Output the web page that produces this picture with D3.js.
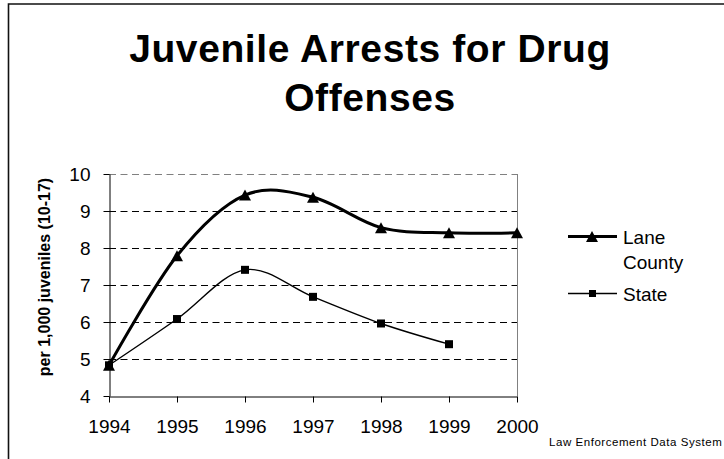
<!DOCTYPE html>
<html>
<head>
<meta charset="utf-8">
<script src="https://cdn.jsdelivr.net/npm/d3@7"></script>
<style>
  html, body { margin: 0; padding: 0; background: #fff; }
  svg { display: block; font-family: Arial, "Liberation Sans", sans-serif; }
</style>
</head>
<body>
<svg id="chart" width="724" height="459"></svg>
<script>
// Juvenile drug-offense arrest rates per 1,000 juveniles aged 10-17
const years = [1994, 1995, 1996, 1997, 1998, 1999, 2000];
const laneCounty = [4.83, 7.79, 9.43, 9.37, 8.55, 8.41, 8.41];
const state = [4.83, 6.08, 7.41, 6.68, 5.96, 5.40, null];
const yTicks = [4, 5, 6, 7, 8, 9, 10];
const titleLines = ["Juvenile Arrests for Drug", "Offenses"];
const yLabel = "per 1,000 juveniles (10-17)";
const seriesNames = ["Lane", "County", "State"];
const sourceNote = "Law Enforcement Data System";

const svg = d3.select("#chart");

// outer frame (top and left edges)
svg.append("path")
  .attr("d", "M8.5,459 L8.5,4 L724,4")
  .attr("fill", "none").attr("stroke", "#111").attr("stroke-width", 1.6);

// title
const title = svg.append("text")
  .attr("text-anchor", "middle")
  .attr("font-weight", "bold")
  .attr("font-size", 39)
  .attr("letter-spacing", 0.6)
  .attr("fill", "#000");
titleLines.forEach((t, i) => {
  title.append("tspan").attr("x", 370).attr("y", 62 + i * 49).text(t);
});

const x = d3.scaleLinear().domain([1994, 2000]).range([109, 517]);
const y = d3.scaleLinear().domain([4, 10]).range([396, 174]);

// dashed horizontal gridlines
svg.append("g")
  .selectAll("line")
  .data(yTicks.filter(v => v > 4))
  .join("line")
  .attr("x1", x(1994)).attr("x2", x(2000))
  .attr("y1", d => Math.round(y(d)) + 0.5).attr("y2", d => Math.round(y(d)) + 0.5)
  .attr("stroke", d => d === 10 ? "#808080" : "#000")
  .attr("stroke-width", 1)
  .attr("stroke-dasharray", "7,4.5");

// plot-area right edge
svg.append("line")
  .attr("x1", x(2000) + 0.5).attr("x2", x(2000) + 0.5)
  .attr("y1", y(10)).attr("y2", y(4))
  .attr("stroke", "#808080").attr("stroke-width", 1);

// axes
const xAxis = d3.axisBottom(x).tickValues(years).tickFormat(d3.format("d"))
  .tickSizeInner(6).tickSizeOuter(0).tickPadding(17);
const gx = svg.append("g").attr("transform", `translate(0,${Math.round(y(4)) + 0.5})`).call(xAxis);
gx.select(".domain").attr("stroke", "#000");
gx.selectAll(".tick line").attr("stroke", "#000");
gx.selectAll(".tick text").attr("font-size", 19).attr("fill", "#000")
  .attr("font-family", "Arial, 'Liberation Sans', sans-serif");

const yAxis = d3.axisLeft(y).tickValues(yTicks).tickFormat(d3.format("d"))
  .tickSizeInner(6).tickSizeOuter(0).tickPadding(13);
const gy = svg.append("g").attr("transform", `translate(${Math.round(x(1994)) + 0.5},0)`).call(yAxis);
gy.select(".domain").attr("stroke", "#000");
gy.selectAll(".tick line").attr("stroke", "#000");
gy.selectAll(".tick text").attr("font-size", 19).attr("fill", "#000")
  .attr("font-family", "Arial, 'Liberation Sans', sans-serif");

// y-axis title
svg.append("text")
  .attr("transform", "translate(50,277) rotate(-90)")
  .attr("text-anchor", "middle")
  .attr("font-weight", "bold")
  .attr("font-size", 16)
  .attr("fill", "#000")
  .text(yLabel);

// smoothed series lines
const line = d3.line()
  .defined(d => d.v != null)
  .x(d => x(d.year)).y(d => y(d.v))
  .curve(d3.curveCatmullRom.alpha(0));

const laneData = years.map((yr, i) => ({ year: yr, v: laneCounty[i] }));
const stateData = years.map((yr, i) => ({ year: yr, v: state[i] })).filter(d => d.v != null);

svg.append("path").datum(stateData)
  .attr("d", line).attr("fill", "none")
  .attr("stroke", "#000").attr("stroke-width", 1.4);

svg.append("path").datum(laneData)
  .attr("d", line).attr("fill", "none")
  .attr("stroke", "#000").attr("stroke-width", 3);

// markers
const tri = (cx, cy, w, h) => `M${cx},${cy - h / 2} L${cx + w / 2},${cy + h / 2} L${cx - w / 2},${cy + h / 2} Z`;

svg.append("g").selectAll("path")
  .data(laneData)
  .join("path")
  .attr("d", d => tri(x(d.year), y(d.v), 12, 11))
  .attr("fill", "#000");

svg.append("g").selectAll("rect")
  .data(stateData)
  .join("rect")
  .attr("x", d => x(d.year) - 4).attr("y", d => y(d.v) - 4)
  .attr("width", 8).attr("height", 8)
  .attr("fill", "#000");

// legend
const lg = svg.append("g");
lg.append("line").attr("x1", 568).attr("x2", 617).attr("y1", 236.5).attr("y2", 236.5)
  .attr("stroke", "#000").attr("stroke-width", 3);
lg.append("path").attr("d", tri(592, 236.5, 12, 11)).attr("fill", "#000");
lg.append("text").attr("x", 623).attr("y", 244).attr("font-size", 19).attr("fill", "#000").text(seriesNames[0]);
lg.append("text").attr("x", 623).attr("y", 269).attr("font-size", 19).attr("fill", "#000").text(seriesNames[1]);

lg.append("line").attr("x1", 568).attr("x2", 617).attr("y1", 293.5).attr("y2", 293.5)
  .attr("stroke", "#000").attr("stroke-width", 1.4);
lg.append("rect").attr("x", 589).attr("y", 290).attr("width", 7).attr("height", 7).attr("fill", "#000");
lg.append("text").attr("x", 623).attr("y", 301).attr("font-size", 19).attr("fill", "#000").text(seriesNames[2]);

// source note
svg.append("text")
  .attr("x", 549).attr("y", 446)
  .attr("font-size", 11.5)
  .attr("letter-spacing", 0.55)
  .attr("fill", "#000")
  .text(sourceNote);
</script>
</body>
</html>
